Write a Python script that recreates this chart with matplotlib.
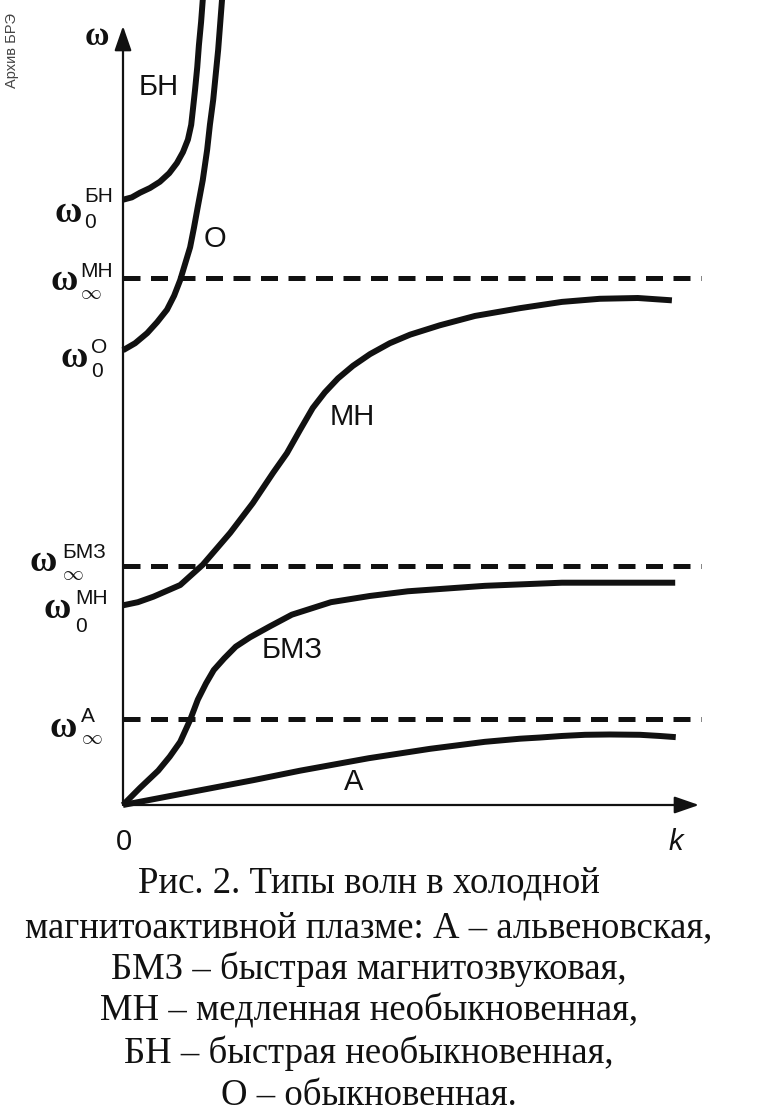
import matplotlib
matplotlib.use("Agg")
import matplotlib.pyplot as plt

plt.rcParams["mathtext.fontset"] = "cm"

# dispersion curves (k and omega in arbitrary units)
k_bn = [0, 0.16, 0.31, 0.49, 0.67, 0.84, 0.98, 1.09, 1.18, 1.24, 1.27, 1.31,
        1.35, 1.38, 1.42, 1.45, 1.49]
w_bn = [7.76, 7.79, 7.85, 7.91, 7.99, 8.10, 8.23, 8.37, 8.53, 8.72, 8.91, 9.17,
        9.46, 9.74, 10.04, 10.32, 10.58]

k_o = [0, 0.22, 0.44, 0.62, 0.80, 0.93, 1.04, 1.13, 1.22, 1.29, 1.36, 1.45,
       1.53, 1.58, 1.64, 1.73, 1.80, 1.84]
w_o = [5.83, 5.92, 6.05, 6.19, 6.35, 6.53, 6.73, 6.94, 7.15, 7.40, 7.67, 8.01,
       8.40, 8.72, 9.04, 9.68, 10.32, 10.58]

k_mn = [0, 0.27, 0.55, 1.04, 1.45, 1.95, 2.36, 2.73, 2.98, 3.22, 3.45, 3.67,
        3.91, 4.18, 4.49, 4.85, 5.22, 5.76, 6.40, 7.22, 7.98, 8.67, 9.36, 9.98]
w_mn = [2.56, 2.60, 2.67, 2.82, 3.08, 3.49, 3.87, 4.26, 4.51, 4.81, 5.09, 5.29,
        5.47, 5.63, 5.78, 5.92, 6.03, 6.15, 6.27, 6.37, 6.45, 6.49, 6.50, 6.47]

k_bmz = [0, 0.31, 0.64, 0.85, 1.04, 1.22, 1.36, 1.51, 1.65, 1.84, 2.05, 2.31,
         2.67, 3.07, 3.78, 4.49, 5.18, 6.58, 7.98, 9.04, 10.04]
w_bmz = [0, 0.22, 0.44, 0.62, 0.81, 1.09, 1.35, 1.56, 1.73, 1.88, 2.03, 2.15,
         2.29, 2.44, 2.60, 2.68, 2.74, 2.81, 2.85, 2.85, 2.85]

k_a = [0, 1.04, 2.38, 3.22, 4.47, 5.58, 6.58, 7.22, 7.58, 7.98, 8.4, 8.85,
       9.4, 9.76, 10.05]
w_a = [0, 0.14, 0.32, 0.44, 0.60, 0.72, 0.81, 0.85, 0.865, 0.885, 0.90, 0.904,
       0.90, 0.885, 0.87]

# asymptotes omega_inf
w_inf = {"МН": 6.76, "БМЗ": 3.06, "А": 1.10}
k_end_dash = 10.5

curve_labels = ["БН", "О", "МН", "БМЗ", "А"]

caption = [
    "Рис. 2. Типы волн в холодной",
    "магнитоактивной плазме: А – альвеновская,",
    "БМЗ – быстрая магнитозвуковая,",
    "МН – медленная необыкновенная,",
    "БН – быстрая необыкновенная,",
    "О – обыкновенная.",
]

# pixel layout helpers (origin of the diagram at pixel 123, 805)
X0, Y0, SX, SY = 123, 805, 55.0, 78.0
W, H = 766, 1115


def px(x, y):
    return (x - X0) / SX, (Y0 - y) / SY


fig = plt.figure(figsize=(W / 100, H / 100), dpi=100)
ax = fig.add_axes([0, 0, 1, 1])
ax.set_xlim(px(0, 0)[0], px(W, 0)[0])
ax.set_ylim(px(0, H)[1], px(0, 0)[1])
ax.axis("off")

sans = ["Liberation Sans", "DejaVu Sans"]
serif = "Liberation Serif"
ink = "#111111"

# axes with arrows
arr = dict(arrowstyle="-|>,head_length=0.75,head_width=0.26", lw=1.6,
           color=ink, shrinkA=0, shrinkB=0, mutation_scale=20)
ax.annotate("", xy=(0, px(0, 26)[1]), xytext=(0, 0), arrowprops=arr)
ax.annotate("", xy=(px(699, 0)[0], 0), xytext=(0, 0), arrowprops=arr)

# dashed asymptotes
for name, w in w_inf.items():
    ax.plot([0, k_end_dash], [w, w], color=ink, lw=3.6, dashes=(3.4, 2.1),
            dash_capstyle="butt")

# curves
for kk, ww in [(k_bn, w_bn), (k_o, w_o), (k_mn, w_mn), (k_bmz, w_bmz), (k_a, w_a)]:
    ax.plot(kk, ww, color=ink, lw=4.3, solid_joinstyle="round",
            solid_capstyle="butt")

# curve labels
lab_pos = {"БН": (159, 87), "О": (215, 239), "МН": (352, 417),
           "БМЗ": (292, 650), "А": (354, 782)}
for name in curve_labels:
    x, y = px(*lab_pos[name])
    ax.text(x, y, name, fontsize=21, family=sans, color=ink,
            ha="center", va="center")

# axis labels
x, y = px(97, 45)
ax.text(x, y, "ω", fontsize=24, family=serif, weight="bold", color=ink,
        ha="center", va="baseline")
x, y = px(124, 850)
ax.text(x, y, "0", fontsize=21, family=sans, color=ink, ha="center", va="baseline")
x, y = px(676, 850)
ax.text(x, y, "k", fontsize=21, family=sans, style="italic", color=ink,
        ha="center", va="baseline")

# left-hand omega labels:
# (superscript, subscript, omega right/bottom, scripts left/sub baseline, line spacing)
left_labels = [
    ("БН", "0", (82, 222), (84, 228), 1.5),
    ("МН", "∞", (78, 290), (80, 299), 1.2),
    ("О", "0", (88, 367), (91, 377), 1.35),
    ("БМЗ", "∞", (57, 571), (62, 580), 1.2),
    ("МН", "0", (71, 618), (75, 632), 1.6),
    ("А", "∞", (77, 737), (81, 744), 1.2),
]
for sup, sub, wp, sp, ls in left_labels:
    x, y = px(*wp)
    ax.text(x, y, "ω", fontsize=27, family=serif, weight="bold", color=ink,
            ha="right", va="baseline")
    x, y = px(*sp)
    sub_txt = r"$\infty$" if sub == "∞" else sub
    ax.text(x, y, sup + "\n" + sub_txt, fontsize=15, family=sans, color=ink,
            ha="left", va="baseline", linespacing=ls)

# archive stamp
x, y = px(12, 50)
ax.text(x, y, "Архив БРЭ", fontsize=10.5, family=sans, color="#444444",
        rotation=90, ha="center", va="center")

# caption
cap_y = [893, 937, 979, 1021, 1063, 1105]
for line, yy in zip(caption, cap_y):
    x, y = px(369, yy)
    ax.text(x, y, line, fontsize=26.5, family=serif, color=ink,
            ha="center", va="baseline")

fig.savefig("out.png", dpi=100, facecolor="white")
